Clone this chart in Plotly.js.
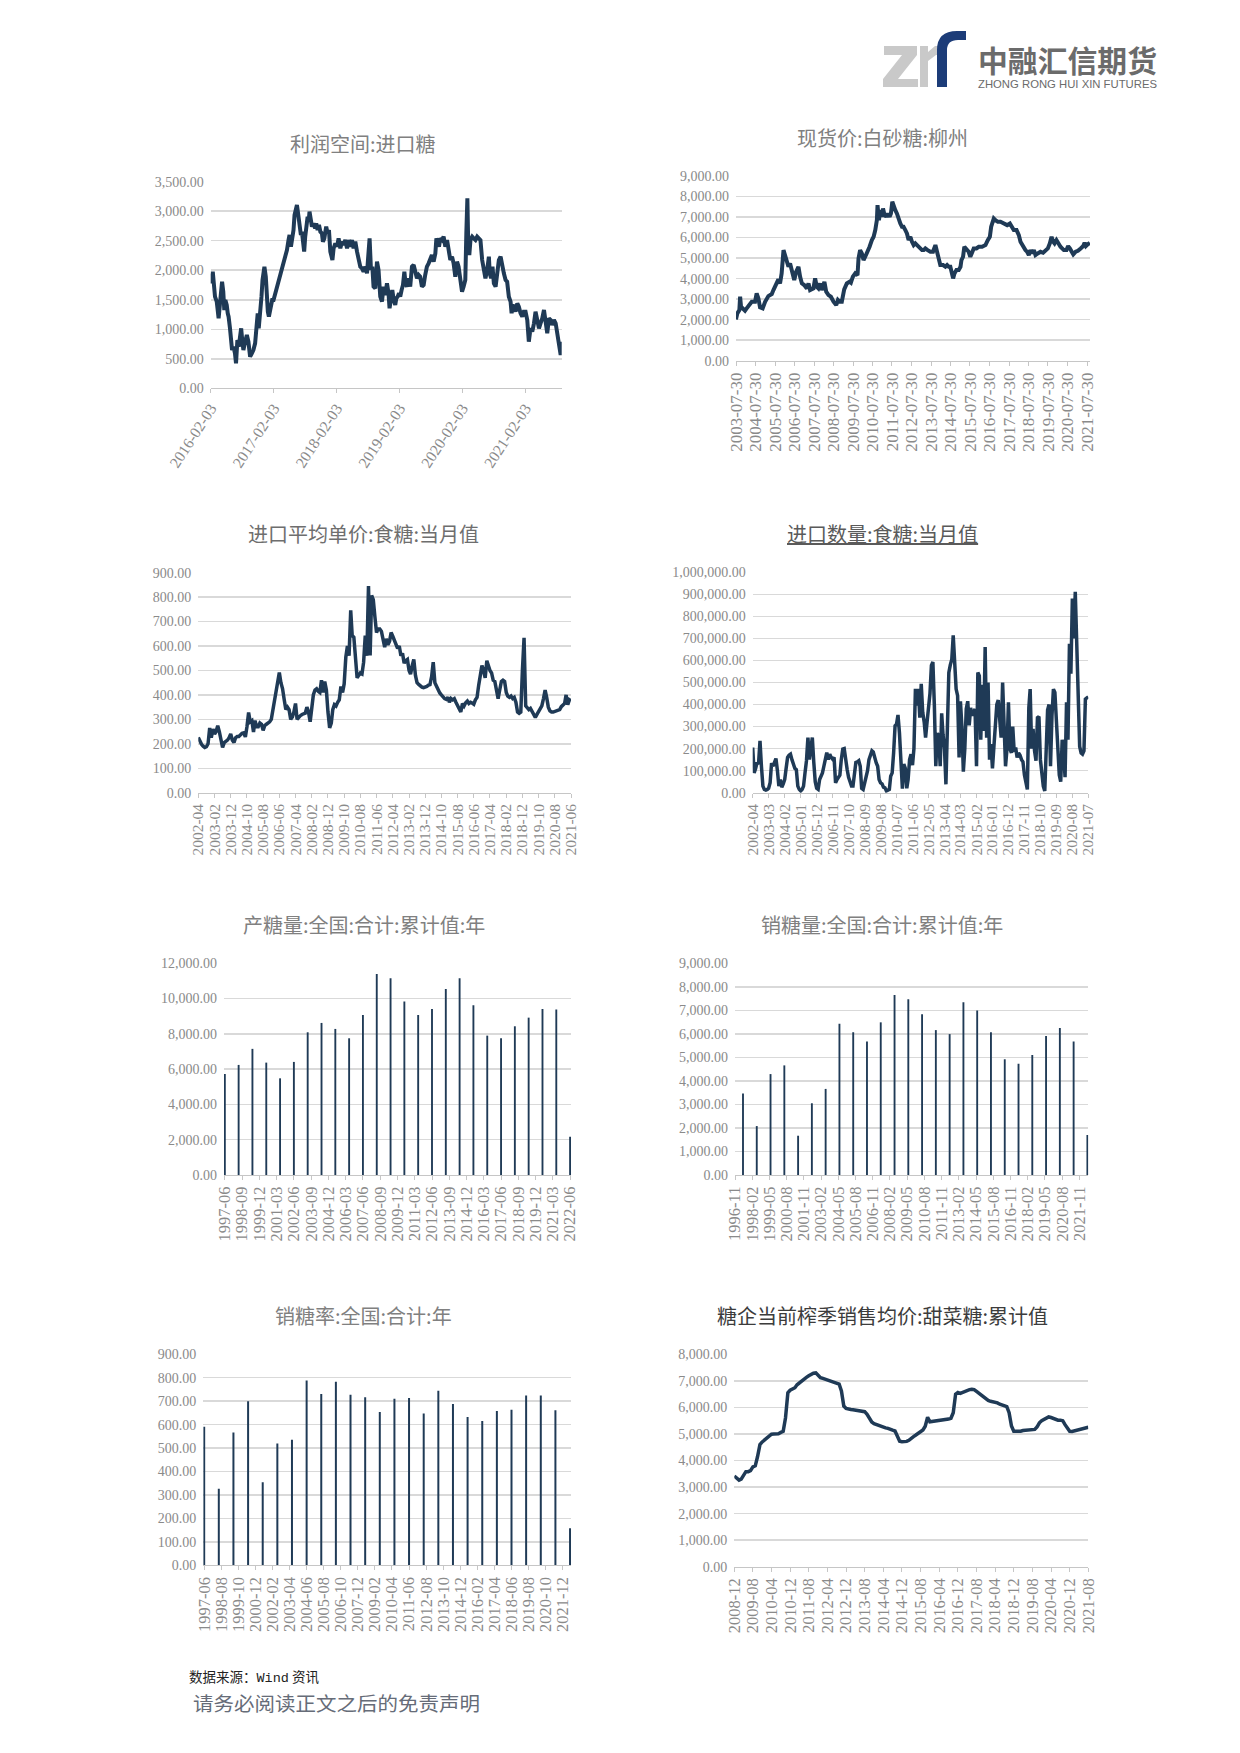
<!DOCTYPE html>
<html><head><meta charset="utf-8">
<script src="https://cdn.plot.ly/plotly-3.0.1.min.js"></script>
<style>
html,body{margin:0;padding:0;background:#fff;}
body{width:1240px;height:1753px;position:relative;overflow:hidden;}
#chart{position:absolute;left:0;top:0;width:1240px;height:1753px;}
svg.deco{position:absolute;left:0;top:0;pointer-events:none;}
</style></head>
<body>
<div id="chart"></div>
<svg class="deco" width="1240" height="1753" xmlns="http://www.w3.org/2000/svg">
  <!-- logo mark (graphic) -->
  <polygon points="884,46 917,46 917,55 898,79 918,79 918,87 883,87 883,79 902,55 884,55" fill="#c9c9c9"/>
  <polygon points="920,46 928,46 928,52 935,46 942,46 942,55 936,55 928,61 928,87 920,87" fill="#c9c9c9"/>
  <path d="M937,87 L937,50 Q937,31 957,31 L966,31 L966,40 L958,40 Q947,40 947,50 L947,87 Z" fill="#1c3c78"/>
  <text x="978" y="72" font-family="Noto Sans CJK SC, sans-serif" font-weight="bold" font-size="30" fill="#6b6b6b" textLength="179" lengthAdjust="spacingAndGlyphs">中融汇信期货</text>
  <text x="978" y="88" font-family="Liberation Sans Narrow, Liberation Sans, Arial, sans-serif" font-size="11" fill="#6b6b6b" textLength="179" lengthAdjust="spacingAndGlyphs">ZHONG RONG HUI XIN FUTURES</text>
  <text x="189" y="1682" font-family="Noto Sans CJK SC, sans-serif" font-size="13.5" fill="#222">数据来源：<tspan font-family="Liberation Mono, monospace">Wind</tspan> 资讯</text>
  <text x="193" y="1711" font-family="Noto Sans CJK SC, sans-serif" font-size="19.5" fill="#666c78" textLength="287" lengthAdjust="spacingAndGlyphs">请务必阅读正文之后的免责声明</text>
</svg>
<script>
// ---------------- DATA ----------------
// 1. 利润空间:进口糖
const profitDates = ['2016-02-03','2016-02-09','2016-02-15','2016-02-22','2016-02-28','2016-03-09','2016-03-14','2016-03-20','2016-03-28','2016-04-03','2016-04-09','2016-04-16','2016-04-22','2016-04-28','2016-05-06','2016-05-12','2016-05-17','2016-05-25','2016-05-31','2016-06-06','2016-06-14','2016-06-23','2016-06-29','2016-07-07','2016-07-15','2016-07-23','2016-07-29','2016-08-04','2016-08-11','2016-08-21','2016-08-31','2016-09-09','2016-09-19','2016-09-29','2016-10-08','2016-10-18','2016-10-28','2016-11-02','2016-11-08','2016-11-16','2016-11-24','2016-11-30','2016-12-05','2016-12-11','2016-12-19','2016-12-25','2016-12-31','2017-01-06','2017-01-14','2017-01-19','2017-01-25','2017-02-02','2017-02-12','2017-02-21','2017-03-03','2017-03-13','2017-03-22','2017-04-01','2017-04-11','2017-04-21','2017-04-30','2017-05-06','2017-05-14','2017-05-20','2017-05-29','2017-06-04','2017-06-12','2017-06-18','2017-06-22','2017-06-28','2017-07-03','2017-07-11','2017-07-17','2017-07-23','2017-07-30','2017-08-05','2017-08-11','2017-08-19','2017-08-25','2017-08-30','2017-09-07','2017-09-13','2017-09-23','2017-10-02','2017-10-08','2017-10-16','2017-10-24','2017-11-01','2017-11-10','2017-11-16','2017-11-24','2017-11-30','2017-12-05','2017-12-13','2017-12-21','2017-12-29','2018-01-04','2018-01-10','2018-01-17','2018-01-27','2018-02-06','2018-02-15','2018-02-25','2018-03-07','2018-03-16','2018-03-26','2018-04-05','2018-04-14','2018-04-24','2018-05-04','2018-05-13','2018-05-23','2018-06-02','2018-06-11','2018-06-21','2018-07-01','2018-07-10','2018-07-20','2018-07-30','2018-08-06','2018-08-14','2018-08-22','2018-08-30','2018-09-06','2018-09-16','2018-09-26','2018-10-05','2018-10-15','2018-10-25','2018-11-03','2018-11-13','2018-11-23','2018-12-02','2018-12-08','2018-12-16','2018-12-24','2019-01-01','2019-01-10','2019-01-16','2019-01-24','2019-02-01','2019-02-08','2019-02-16','2019-02-24','2019-03-04','2019-03-11','2019-03-19','2019-03-29','2019-04-07','2019-04-17','2019-04-27','2019-05-06','2019-05-16','2019-05-26','2019-06-04','2019-06-14','2019-06-24','2019-07-03','2019-07-13','2019-07-23','2019-08-02','2019-08-11','2019-08-21','2019-08-31','2019-09-06','2019-09-13','2019-09-21','2019-09-29','2019-10-09','2019-10-18','2019-10-28','2019-11-07','2019-11-16','2019-11-26','2019-12-06','2019-12-15','2019-12-25','2020-01-04','2020-01-13','2020-01-23','2020-02-02','2020-02-11','2020-02-21','2020-02-27','2020-03-04','2020-03-10','2020-03-16','2020-03-22','2020-04-01','2020-04-10','2020-04-20','2020-04-30','2020-05-09','2020-05-19','2020-05-29','2020-06-07','2020-06-17','2020-06-27','2020-07-07','2020-07-12','2020-07-20','2020-07-28','2020-08-05','2020-08-15','2020-08-24','2020-09-03','2020-09-13','2020-09-22','2020-10-02','2020-10-12','2020-10-21','2020-10-31','2020-11-10','2020-11-16','2020-11-21','2020-11-29','2020-12-09','2020-12-19','2020-12-28','2021-01-07','2021-01-17','2021-01-26','2021-02-05','2021-02-15','2021-02-24','2021-03-06','2021-03-16','2021-03-26','2021-04-04','2021-04-14','2021-04-24','2021-05-03','2021-05-13','2021-05-23','2021-06-02','2021-06-11','2021-06-21','2021-07-01','2021-07-10','2021-07-20','2021-07-30','2021-08-08','2021-08-18','2021-08-28','2021-09-01','2021-09-03'];
const profitValues = [1948,1778,1976,1609,1552,1468,1270,1185,1440,1722,1806,1637,1326,1496,1411,1270,1213,1016,818,649,706,593,423,818,706,931,1016,818,649,790,903,790,536,593,649,762,1157,1270,1016,1213,1552,1835,2004,2060,1891,1552,1298,1213,1355,1440,1496,1496,1609,1665,1778,1891,2004,2173,2230,2343,2512,2597,2399,2512,2681,2935,3020,3105,3020,2907,2710,2597,2653,2399,2315,2568,2794,2907,2822,2992,2850,2738,2794,2710,2794,2681,2766,2653,2625,2484,2540,2710,2738,2625,2681,2315,2258,2173,2371,2456,2399,2540,2371,2484,2427,2512,2371,2512,2399,2512,2371,2484,2315,2173,2060,2032,1976,2060,1948,2230,2540,2004,2060,1722,1694,2145,2004,1552,1468,1722,1581,1778,1609,1355,1552,1665,1496,1411,1524,1552,1609,1552,1665,1750,1976,1778,1722,1863,1722,2060,2089,1948,1863,1919,1891,1722,1750,1919,2060,2117,2173,2258,2145,2286,2540,2484,2399,2540,2512,2568,2399,2512,2343,2173,2230,2117,1891,2145,2060,1891,1637,1722,1835,2625,3218,2286,2286,2512,2568,2540,2512,2568,2540,2512,2173,2004,1863,2004,2230,1948,1863,2060,1778,1722,1891,2173,2230,2060,1948,1835,1806,1552,1468,1270,1383,1411,1298,1440,1383,1270,1213,1298,1298,1157,790,1016,960,1101,1298,1157,1016,1101,1185,1327,1157,931,1185,1157,1072,1157,1101,931,706,565,649,790];
const profitTicks = ['2016-02-03','2017-02-03','2018-02-03','2019-02-03','2020-02-03','2021-02-03'];

// 2. 现货价:白砂糖:柳州
const spotDates = ['2003-07-30','2003-08-24','2003-10-01','2003-10-15','2003-11-01','2003-12-03','2004-01-15','2004-02-15','2004-04-05','2004-05-20','2004-07-20','2004-08-20','2004-09-22','2004-10-22','2004-12-10','2005-01-25','2005-03-27','2005-05-30','2005-06-30','2005-08-20','2005-10-01','2005-11-01','2005-12-01','2006-01-05','2006-02-05','2006-03-05','2006-04-08','2006-05-08','2006-06-27','2006-07-25','2006-08-30','2006-10-12','2006-11-12','2006-12-15','2007-01-28','2007-03-18','2007-04-18','2007-05-18','2007-07-20','2007-08-20','2007-09-20','2007-10-20','2007-11-22','2007-12-22','2008-02-10','2008-03-15','2008-04-27','2008-06-10','2008-07-30','2008-09-18','2008-10-20','2008-11-20','2009-01-01','2009-01-20','2009-02-15','2009-04-05','2009-05-27','2009-06-20','2009-07-27','2009-09-10','2009-10-22','2009-11-10','2009-12-10','2010-01-12','2010-02-12','2010-03-15','2010-04-15','2010-06-05','2010-07-18','2010-08-20','2010-09-20','2010-10-20','2010-11-01','2010-11-27','2010-12-25','2011-01-25','2011-02-12','2011-03-05','2011-04-15','2011-05-08','2011-06-15','2011-07-10','2011-08-05','2011-08-30','2011-09-30','2011-10-30','2011-12-02','2012-01-02','2012-02-02','2012-03-02','2012-04-05','2012-05-05','2012-06-05','2012-07-08','2012-08-08','2012-09-08','2012-10-08','2012-11-12','2012-12-12','2013-01-12','2013-02-12','2013-03-15','2013-04-15','2013-05-28','2013-07-18','2013-09-05','2013-10-20','2013-11-20','2013-12-20','2014-01-20','2014-03-12','2014-04-25','2014-05-27','2014-06-27','2014-07-27','2014-08-27','2014-09-17','2014-10-12','2014-11-18','2014-12-30','2015-02-02','2015-02-20','2015-03-22','2015-04-15','2015-05-25','2015-07-05','2015-08-05','2015-09-08','2015-10-08','2015-11-27','2016-01-10','2016-03-12','2016-05-15','2016-06-27','2016-08-05','2016-08-30','2016-09-24','2016-10-18','2016-11-18','2017-01-02','2017-02-20','2017-04-25','2017-06-25','2017-08-15','2017-09-27','2017-10-27','2017-12-18','2018-01-30','2018-03-02','2018-04-20','2018-06-02','2018-07-05','2018-08-05','2018-09-05','2018-10-08','2018-11-08','2018-12-08','2019-01-20','2019-03-12','2019-04-30','2019-06-15','2019-07-27','2019-09-02','2019-10-05','2019-11-05','2019-11-30','2020-01-05','2020-02-20','2020-03-20','2020-04-20','2020-05-22','2020-07-10','2020-08-10','2020-09-12','2020-10-08','2020-11-15','2020-12-30','2021-02-10','2021-04-02','2021-05-20','2021-06-15','2021-07-10','2021-08-18','2021-09-22'];
const spotValues = [2013,2305,2468,3117,2630,2549,2435,2549,2760,2873,2873,3279,3036,2597,2549,2873,3149,3247,3442,3685,3961,3766,4253,5390,5065,4821,4578,4740,4253,3929,4334,4578,4091,3766,3685,3523,3766,3442,3523,4010,3604,3523,3766,3442,3847,3360,3198,3117,2873,2711,2955,2873,2873,3279,3474,3766,3847,3799,4091,4253,4172,4984,5390,5227,4903,5065,5227,5552,5877,6039,6364,6851,7581,6851,7338,7013,7419,7175,7013,7175,7013,7175,7744,7500,7338,7175,6851,6688,6526,6526,6364,6201,5877,6039,5795,5633,5714,5633,5552,5471,5390,5390,5471,5390,5308,5308,5633,5308,4903,4659,4659,4578,4659,4578,4578,4253,4010,4253,4415,4415,4578,4903,5065,5552,5390,5308,5060,5308,5471,5471,5552,5552,5633,5877,6039,6526,6688,6932,6851,6769,6769,6688,6607,6688,6445,6364,6364,6120,5795,5552,5390,5308,5146,5390,5227,5390,5146,5227,5308,5260,5390,5471,5714,6039,5795,5714,5877,5633,5552,5471,5390,5390,5584,5471,5308,5179,5308,5357,5471,5584,5747,5584,5682,5747];
const spotTicks = ['2003-07-30','2004-07-30','2005-07-30','2006-07-30','2007-07-30','2008-07-30','2009-07-30','2010-07-30','2011-07-30','2012-07-30','2013-07-30','2014-07-30','2015-07-30','2016-07-30','2017-07-30','2018-07-30','2019-07-30','2020-07-30','2021-07-30'];

// 3. 进口平均单价:食糖:当月值 (monthly from 2002-04)
const priceStart = '2002-04';
const priceValues = [226,210,198,190,185,188,200,265,225,260,240,250,274,250,215,185,205,210,215,225,240,215,205,225,230,230,238,243,245,228,270,328,290,295,248,295,270,270,285,280,255,275,280,285,290,300,340,380,420,470,492,450,425,380,340,350,340,300,310,330,365,300,310,315,320,322,325,350,330,290,340,400,420,425,415,410,460,410,455,420,330,265,285,340,360,355,370,380,435,410,445,554,600,560,746,643,636,560,470,480,490,486,533,643,560,845,561,807,790,720,655,670,670,660,630,595,630,605,620,655,640,620,610,590,600,560,570,530,540,545,500,485,520,545,480,450,443,435,432,430,432,435,440,442,475,534,450,435,420,408,400,390,385,382,390,370,385,380,385,370,355,342,330,365,355,368,375,365,370,367,362,380,390,440,490,520,500,470,540,520,500,490,460,455,410,385,420,455,460,455,410,395,390,395,385,390,370,330,325,330,500,634,355,350,340,345,330,320,308,320,330,340,355,385,420,390,350,335,330,330,333,335,338,340,352,360,365,400,360,380,375];
const priceTicks = ['2002-04','2003-02','2003-12','2004-10','2005-08','2006-06','2007-04','2008-02','2008-12','2009-10','2010-08','2011-06','2012-04','2013-02','2013-12','2014-10','2015-08','2016-06','2017-04','2018-02','2018-12','2019-10','2020-08','2021-06'];

// 4. 进口数量:食糖:当月值 (monthly from 2002-04, tonnes)
const qtyStart = '2002-04';
const qtyValues = [205000,90000,110000,137000,130000,235000,120000,30000,15000,12000,15000,20000,45000,134000,120000,140000,155000,100000,30000,60000,25000,40000,60000,110000,160000,170000,175000,150000,125000,110000,105000,30000,15000,8000,15000,30000,90000,144000,250000,150000,200000,250000,140000,50000,20000,15000,60000,75000,90000,120000,145000,182000,150000,175000,160000,152000,160000,45000,60000,70000,80000,150000,198000,200000,140000,105000,70000,45000,30000,30000,80000,137000,140000,145000,120000,20000,15000,40000,75000,100000,150000,170000,190000,185000,150000,136000,120000,60000,45000,40000,25000,22000,8000,10000,15000,75000,90000,180000,304000,310000,353000,270000,120000,18000,130000,110000,20000,60000,150000,175000,125000,200000,471000,395000,471000,340000,494000,365000,320000,250000,320000,380000,450000,578000,593000,395000,120000,270000,255000,120000,360000,265000,200000,38000,330000,545000,580000,605000,714000,610000,470000,440000,160000,415000,300000,95000,200000,380000,415000,305000,385000,350000,365000,380000,120000,545000,530000,240000,490000,280000,661000,250000,500000,150000,220000,110000,210000,300000,400000,420000,350000,250000,500000,260000,120000,200000,410000,200000,180000,300000,185000,205000,160000,180000,170000,150000,140000,80000,50000,15000,385000,470000,200000,290000,190000,145000,340000,345000,150000,80000,30000,8000,165000,375000,400000,120000,350000,470000,455000,300000,150000,80000,50000,240000,180000,70000,410000,240000,676000,540000,881000,700000,912000,700000,420000,210000,180000,175000,190000,425000,430000,435000];
const qtyTicks = ['2002-04','2003-03','2004-02','2005-01','2005-12','2006-11','2007-10','2008-09','2009-08','2010-07','2011-06','2012-05','2013-04','2014-03','2015-02','2016-01','2016-12','2017-11','2018-10','2019-09','2020-08','2021-07'];

// 5-7. 年度数据 (榨季)
const seasonDates = ['1997-06','1998-06','1999-06','2000-06','2001-06','2002-06','2003-06','2004-06','2005-06','2006-06','2007-06','2008-06','2009-06','2010-06','2011-06','2012-06','2013-06','2014-06','2015-06','2016-06','2017-06','2018-06','2019-06','2020-06','2021-06','2022-06'];
const prodValues = [5730,6240,7150,6370,5480,6410,8090,8620,8280,7750,9070,11400,11150,9830,9070,9410,10550,11150,9620,7900,7750,8430,8920,9410,9380,2170];
const prodTicks = ['1997-06','1998-09','1999-12','2001-03','2002-06','2003-09','2004-12','2006-03','2007-06','2008-09','2009-12','2011-03','2012-06','2013-09','2014-12','2016-03','2017-06','2018-09','2019-12','2021-03','2022-06'];
const salesValues = [3470,2080,4290,4660,1670,3050,3660,6430,6070,5680,6490,7650,7470,6830,6160,5990,7340,6990,6070,4920,4730,5100,5910,6250,5680,1700];
const salesTicks = ['1996-11','1998-02','1999-05','2000-08','2001-11','2003-02','2004-05','2005-08','2006-11','2008-02','2009-05','2010-08','2011-11','2013-02','2014-05','2015-08','2016-11','2018-02','2019-05','2020-08','2021-11'];
const rateValues = [591,326,566,700,354,520,535,788,731,783,727,717,654,710,714,647,744,688,633,616,658,663,724,724,661,158];
const rateTicks = ['1997-06','1998-08','1999-10','2000-12','2002-02','2003-04','2004-06','2005-08','2006-10','2007-12','2009-02','2010-04','2011-06','2012-08','2013-10','2014-12','2016-02','2017-04','2018-06','2019-08','2020-10','2021-12'];

// 8. 糖企当前榨季销售均价:甜菜糖:累计值 (monthly from 2008-12)
const beetStart = '2008-12';
const beetValues = [3417,3329,3260,3300,3455,3580,3580,3620,3760,3800,4150,4600,4700,4780,4840,4900,4990,5000,4990,5010,5060,5100,5600,6550,6650,6700,6740,6850,6930,7010,7070,7130,7190,7240,7290,7300,7190,7120,7090,7060,7030,6990,6950,6930,6900,6880,6620,6050,5960,5930,5920,5910,5900,5890,5880,5860,5840,5740,5600,5450,5390,5350,5310,5290,5260,5230,5210,5160,5140,5110,4880,4730,4710,4710,4720,4760,4850,4900,4960,5030,5080,5150,5290,5628,5460,5470,5470,5480,5500,5520,5530,5540,5560,5590,5800,6500,6560,6530,6570,6600,6650,6670,6680,6670,6600,6530,6470,6380,6300,6260,6230,6220,6210,6170,6120,6080,6050,6030,5800,5300,5100,5090,5090,5100,5126,5140,5140,5140,5150,5170,5260,5420,5500,5560,5590,5640,5620,5590,5540,5520,5520,5500,5350,5200,5100,5090,5110,5140,5160,5190,5214,5240,5250];
const beetTicks = ['2008-12','2009-08','2010-04','2010-12','2011-08','2012-04','2012-12','2013-08','2014-04','2014-12','2015-08','2016-04','2016-12','2017-08','2018-04','2018-12','2019-08','2020-04','2020-12','2021-08'];

const titles = ['利润空间:进口糖','现货价:白砂糖:柳州','进口平均单价:食糖:当月值','进口数量:食糖:当月值','产糖量:全国:合计:累计值:年','销糖量:全国:合计:累计值:年','销糖率:全国:合计:年','糖企当前榨季销售均价:甜菜糖:累计值'];

// ---------------- HELPERS ----------------
function monthSeq(start, n){
  let y = +start.slice(0,4), m = +start.slice(5,7);
  const out = [];
  for (let i=0;i<n;i++){ out.push(y+'-'+String(m).padStart(2,'0')); m++; if(m>12){m=1;y++;} }
  return out;
}
const W=1240, H=1753;
const NAVY='#1f3a56', GRID='#d9d9d9', AXIS='#c6c6c6', TICKC='#8a8a8a';
const TFONT='Liberation Serif, DejaVu Serif, serif';
const boxes = [
  {l:210.7,r:561.7,t:181.7,b:388.3},
  {l:736,  r:1090, t:176,  b:360.7},
  {l:198.3,r:571,  t:572.7,b:792.7},
  {l:752.7,r:1088.3,t:572.3,b:792.7},
  {l:224,  r:571,  t:963.3,b:1175},
  {l:735,  r:1088.3,t:963.3,b:1175},
  {l:203.3,r:571,  t:1354.3,b:1565.3},
  {l:734.3,r:1088.3,t:1354.3,b:1566.7}
];
const titlePos = [[363,143],[882,138],[364,533],[882,533],[364,925],[882,925],[364,1315],[882,1315]];
const titleColor = ['#808080','#808080','#6e6e6e','#5a5a5a','#808080','#808080','#808080','#3c3c3c'];
const yMax   = [3500,9000,900,1000000,12000,9000,900,8000];
const yDtick = [500,1000,100,100000,2000,1000,100,1000];
const xTicks = [profitTicks,spotTicks,priceTicks,qtyTicks,prodTicks,salesTicks,rateTicks,beetTicks];
const xRange = [['2016-02-03','2021-09-03'],['2003-07-30','2021-09-24'],['2002-04','2021-06'],['2002-04','2021-07'],
                ['1997-05-10','2022-06-25'],['1996-11','2022-06-25'],['1997-05-10','2022-06-25'],['2008-12','2021-08']];
const xAngle = [-57,-90,-90,-90,-90,-90,-90,-90];
const xSize  = [15.5,17,15.5,15.5,16.5,16.5,16.5,16.5];
const lineW  = [4,4,3.5,3.5,0,0,0,3.5];

const layout = {width:W,height:H,margin:{l:0,r:0,t:0,b:0},paper_bgcolor:'#fff',plot_bgcolor:'rgba(0,0,0,0)',
  showlegend:false,font:{family:TFONT,color:TICKC},annotations:[]};

for (let i=0;i<8;i++){
  const s = i===0?'':String(i+1);
  const b = boxes[i];
  layout['xaxis'+s] = {domain:[b.l/W,b.r/W],anchor:'y'+s,type:'date',range:xRange[i],
    tickmode:'array',tickvals:xTicks[i],ticktext:xTicks[i],tickangle:xAngle[i],
    tickfont:{family:TFONT,size:xSize[i],color:TICKC},
    showgrid:false,zeroline:false,showline:true,linecolor:AXIS,linewidth:1,
    ticks:'outside',ticklen:4,tickwidth:1,tickcolor:AXIS,fixedrange:true};
  layout['yaxis'+s] = {domain:[1-b.b/H,1-b.t/H],anchor:'x'+s,range:[0,yMax[i]],dtick:yDtick[i],tick0:0,
    tickformat:',.2f',showgrid:true,gridcolor:GRID,gridwidth:1.5,zeroline:false,showline:false,ticks:'',
    ticklabelstandoff:6,tickfont:{family:TFONT,size:14,color:TICKC},fixedrange:true};
  layout.annotations.push({text:titles[i],xref:'paper',yref:'paper',x:titlePos[i][0]/W,y:1-titlePos[i][1]/H,
    xanchor:'center',yanchor:'middle',showarrow:false,
    font:{family:'Noto Sans CJK SC, sans-serif',size:20,color:titleColor[i],lineposition: i===3?'under':'none'}});
}

const ls = i => ({color:NAVY,width:lineW[i]});
const traces = [
  {type:'scatter',mode:'lines',x:profitDates,y:profitValues,xaxis:'x',yaxis:'y',line:ls(0)},
  {type:'scatter',mode:'lines',x:spotDates,y:spotValues,xaxis:'x2',yaxis:'y2',line:ls(1)},
  {type:'scatter',mode:'lines',x:monthSeq(priceStart,priceValues.length),y:priceValues,xaxis:'x3',yaxis:'y3',line:ls(2)},
  {type:'scatter',mode:'lines',x:monthSeq(qtyStart,qtyValues.length),y:qtyValues,xaxis:'x4',yaxis:'y4',line:ls(3)},
  {type:'bar',x:seasonDates,y:prodValues,xaxis:'x5',yaxis:'y5',width:4.3e9,marker:{color:NAVY}},
  {type:'bar',x:seasonDates,y:salesValues,xaxis:'x6',yaxis:'y6',width:4.3e9,marker:{color:NAVY}},
  {type:'bar',x:seasonDates,y:rateValues,xaxis:'x7',yaxis:'y7',width:4.3e9,marker:{color:NAVY}},
  {type:'scatter',mode:'lines',x:monthSeq(beetStart,beetValues.length),y:beetValues,xaxis:'x8',yaxis:'y8',line:ls(7)}
];
Plotly.newPlot('chart',traces,layout,{staticPlot:true,displayModeBar:false});
</script>
</body></html>
